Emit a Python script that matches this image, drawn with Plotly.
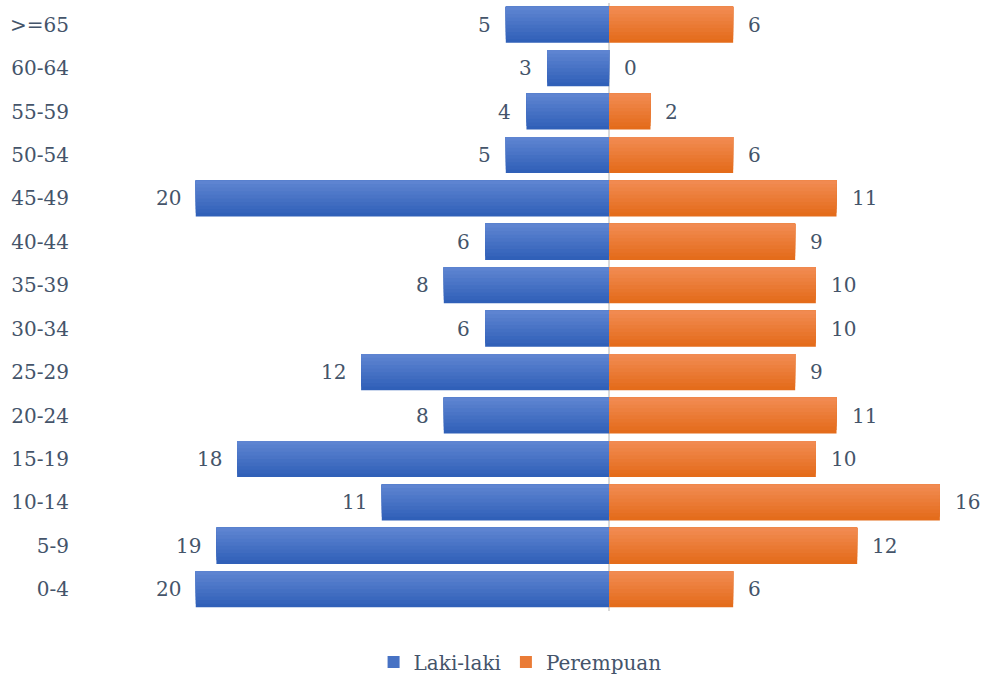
import plotly.graph_objects as go

age_groups = ["0-4", "5-9", "10-14", "15-19", "20-24", "25-29", "30-34",
              "35-39", "40-44", "45-49", "50-54", "55-59", "60-64", ">=65"]
laki_laki = [20, 19, 11, 18, 8, 12, 6, 8, 6, 20, 5, 4, 3, 5]
perempuan = [6, 12, 16, 10, 11, 9, 10, 10, 9, 11, 6, 2, 0, 6]

FONT = "DejaVu Serif"
TXT = "#44546A"
FS = 20
# gradient (bottom -> top) endpoints
BLUE_BOTTOM, BLUE_TOP = (46, 94, 183), (96, 134, 210)
ORANGE_BOTTOM, ORANGE_TOP = (227, 106, 24), (242, 140, 84)
N_STRIPS = 10
BAR_W = 0.83


def mix(a, b, t):
    return "rgb({},{},{})".format(*[round(a[k] + (b[k] - a[k]) * t) for k in range(3)])


fig = go.Figure()
strip = BAR_W / N_STRIPS
for name, vals, c0, c1 in [("Laki-laki", [-v for v in laki_laki], BLUE_BOTTOM, BLUE_TOP),
                           ("Perempuan", perempuan, ORANGE_BOTTOM, ORANGE_TOP)]:
    for i in range(N_STRIPS):
        t = (i + 0.5) / N_STRIPS
        # each strip runs from its own start to the top of the bar; later
        # strips cover earlier ones, so no seams appear between them
        fig.add_trace(go.Bar(
            y=age_groups, x=vals, orientation="h",
            width=BAR_W - i * strip, offset=-BAR_W / 2 + i * strip,
            marker=dict(color=mix(c0, c1, t), line=dict(width=0)),
            name=name, legendgroup=name, showlegend=False, hoverinfo="skip"))
    # legend entry
    fig.add_trace(go.Bar(
        y=[None], x=[None], orientation="h", name=name, legendgroup=name,
        marker=dict(color=mix(c0, c1, 0.5), line=dict(width=0)),
        showlegend=True, hoverinfo="skip"))

annotations = []
for cat, m, f in zip(age_groups, laki_laki, perempuan):
    annotations.append(dict(x=-m, y=cat, xref="x", yref="y", text=str(m),
                            showarrow=False, xanchor="right", xshift=-13,
                            font=dict(family=FONT, size=FS, color=TXT)))
    annotations.append(dict(x=f, y=cat, xref="x", yref="y", text=str(f),
                            showarrow=False, xanchor="left", xshift=13,
                            font=dict(family=FONT, size=FS, color=TXT)))

fig.update_layout(
    width=985, height=677,
    margin=dict(l=80, r=10, t=3, b=66, autoexpand=False),
    paper_bgcolor="white", plot_bgcolor="white",
    barmode="overlay",
    font=dict(family=FONT, size=FS, color=TXT),
    showlegend=True,
    legend=dict(orientation="h", x=0.528, xref="container", xanchor="center",
                y=0.022, yref="container", yanchor="middle",
                font=dict(family=FONT, size=FS, color=TXT),
                itemwidth=30, traceorder="normal"),
    annotations=annotations,
    xaxis=dict(range=[-25.6, 17.7], showgrid=False, showticklabels=False,
               zeroline=True, zerolinecolor="#D9D9D9", zerolinewidth=2,
               fixedrange=True),
    yaxis=dict(showgrid=False, ticks="", ticklabelstandoff=10,
               tickfont=dict(family=FONT, size=FS, color=TXT),
               categoryorder="array", categoryarray=age_groups),
)

fig.write_html("out.html")
